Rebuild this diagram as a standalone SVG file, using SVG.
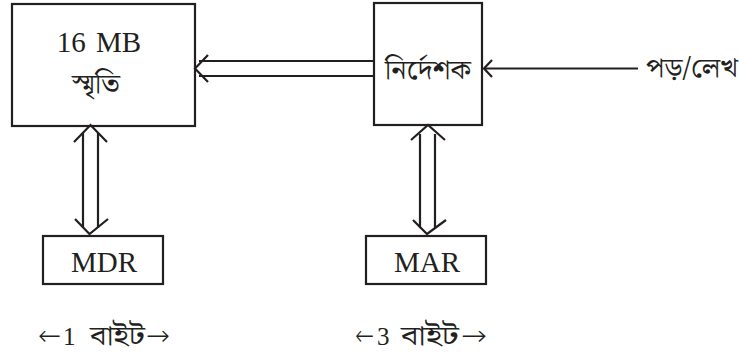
<svg xmlns="http://www.w3.org/2000/svg" width="739" height="358" viewBox="0 0 739 358">
  <style>
    .box { fill: #fff; stroke: #231f20; stroke-width: 2.2; }
    .ln { fill: none; stroke: #231f20; stroke-width: 2.2; stroke-linecap: butt; stroke-linejoin: miter; }
    .lat { font-family: "Liberation Serif", "Times New Roman", serif; font-size: 29px; fill: #231f20; }
    .bn { font-family: "Noto Serif Bengali", "Noto Sans Bengali", "Lohit Bengali", serif; font-size: 27px; fill: #231f20; }
    .sm { font-family: "Liberation Serif", "Times New Roman", serif; font-size: 25px; fill: #231f20; }
    .arw { font-family: "DejaVu Sans", sans-serif; font-weight: 200; font-size: 28px; fill: #231f20; }
  </style>
  <rect width="739" height="358" fill="#fff"/>

  <!-- Memory -->
  <g id="memory">
    <rect class="box" x="12" y="4" width="183" height="122"/>
    <text class="lat" x="99" y="52" text-anchor="middle" word-spacing="3">16 MB</text>
    <text class="bn" x="72" y="93" textLength="48" lengthAdjust="spacingAndGlyphs">স্মৃতি</text>
  </g>

  <!-- Pointer -->
  <g id="pointer">
    <rect class="box" x="374" y="3" width="108" height="122"/>
    <text class="bn" x="385" y="79" textLength="86" lengthAdjust="spacingAndGlyphs">নির্দেশক</text>
  </g>

  <!-- MDR -->
  <g id="mdr">
    <rect class="box" x="43" y="236" width="120" height="48"/>
    <text class="lat" x="104" y="272" text-anchor="middle">MDR</text>
  </g>

  <!-- MAR -->
  <g id="mar">
    <rect class="box" x="366" y="236" width="120" height="48"/>
    <text class="lat" x="427" y="272" text-anchor="middle">MAR</text>
  </g>

  <!-- Read/write label -->
  <g id="rw-label">
    <text class="bn" x="646" y="77" textLength="92" lengthAdjust="spacingAndGlyphs">পড়/লেখ</text>
  </g>

  <!-- Width labels -->
  <g id="width-labels">
    <text y="345"><tspan class="arw" x="38" textLength="23" lengthAdjust="spacingAndGlyphs">←</tspan><tspan class="sm" x="63">1</tspan><tspan class="bn" x="90" textLength="55" lengthAdjust="spacingAndGlyphs">বাইট</tspan><tspan class="arw" x="146" textLength="24" lengthAdjust="spacingAndGlyphs">→</tspan></text>
    <text y="345"><tspan class="arw" x="355" textLength="19" lengthAdjust="spacingAndGlyphs">←</tspan><tspan class="sm" x="377">3</tspan><tspan class="bn" x="401" textLength="58" lengthAdjust="spacingAndGlyphs">বাইট</tspan><tspan class="arw" x="461" textLength="26" lengthAdjust="spacingAndGlyphs">→</tspan></text>
  </g>

  <!-- Connectors -->
  <g id="connectors">
    <!-- pointer to memory (double line) -->
    <path class="ln" d="M374 61 H199 M374 76 H199"/>
    <path class="ln" d="M208 55 L195 68.5 L208 82"/>

    <!-- memory <-> MDR -->
    <path class="ln" d="M83 133 V228 M98 133 V228"/>
    <path class="ln" d="M74 142 L90.5 125 L107 142"/>
    <path class="ln" d="M75 219 L89.5 234 L108 219"/>

    <!-- pointer <-> MAR -->
    <path class="ln" d="M420 134 V228 M435 134 V228"/>
    <path class="ln" d="M411 140 L428 125 L445 140"/>
    <path class="ln" d="M413 220 L427 234 L446 220"/>

    <!-- read/write input -->
    <path class="ln" d="M638 68.5 H485"/>
    <path class="ln" d="M492 60 L484 68.5 L492 77"/>
  </g>
</svg>
